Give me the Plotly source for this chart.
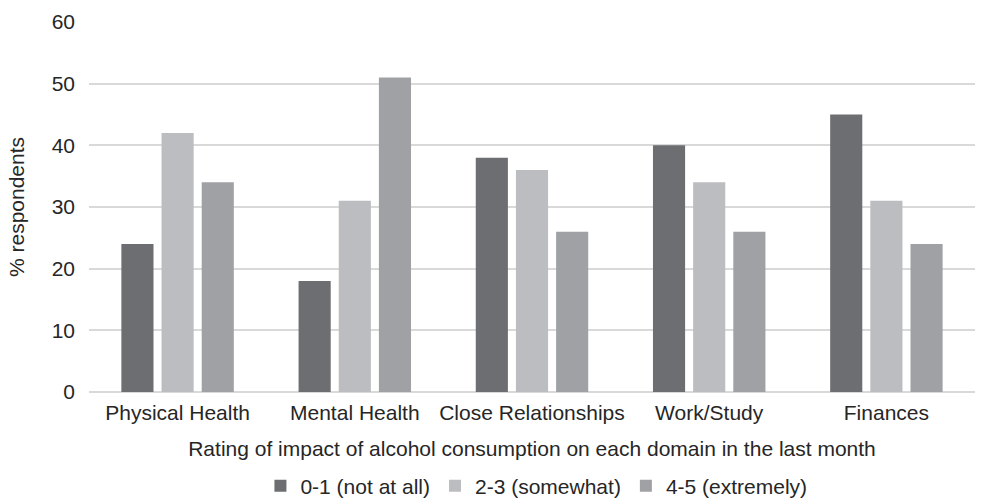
import plotly.graph_objects as go

categories = ["Physical Health", "Mental Health", "Close Relationships", "Work/Study", "Finances"]
series_names = ["0-1 (not at all)", "2-3 (somewhat)", "4-5 (extremely)"]
not_at_all = [24, 18, 38, 40, 45]
somewhat = [42, 31, 36, 34, 31]
extremely = [34, 51, 26, 26, 24]
colors = ["#6d6e72", "#bcbdc0", "#a0a1a5"]
y_ticks = [0, 10, 20, 30, 40, 50, 60]

fig = go.Figure()
for name, vals, col in zip(series_names, [not_at_all, somewhat, extremely], colors):
    fig.add_trace(go.Bar(x=categories, y=vals, name=name, marker=dict(color=col, line=dict(width=0))))

font = "Liberation Sans, Arial, sans-serif"
fs = 21
fig.update_layout(
    width=990, height=502,
    margin=dict(l=89, r=15, t=22, b=110, autoexpand=False),
    paper_bgcolor="white", plot_bgcolor="white",
    barmode="group", bargap=0.32, bargroupgap=0.2,
    font=dict(family=font, size=fs, color="#262626"),
    showlegend=True,
    legend=dict(orientation="h", x=0.505, xanchor="center", y=-0.254, yanchor="middle",
                font=dict(size=fs, color="#262626"), itemwidth=30, traceorder="normal"),
    xaxis=dict(title=dict(text="Rating of impact of alcohol consumption on each domain in the last month",
                          font=dict(size=fs), standoff=18),
               showgrid=False, showline=False, ticks="", tickfont=dict(size=fs),
               ticklabelstandoff=6, automargin=False),
    yaxis=dict(title=dict(text="% respondents", font=dict(size=fs), standoff=21),
               range=[0, 60], tickvals=y_ticks, showgrid=True, gridcolor="#d9d9d9", gridwidth=2,
               zeroline=True, zerolinecolor="#d9d9d9", zerolinewidth=2,
               showline=False, ticks="", tickfont=dict(size=fs), ticklabelstandoff=13, automargin=False),
)
fig.write_html("out.html")
